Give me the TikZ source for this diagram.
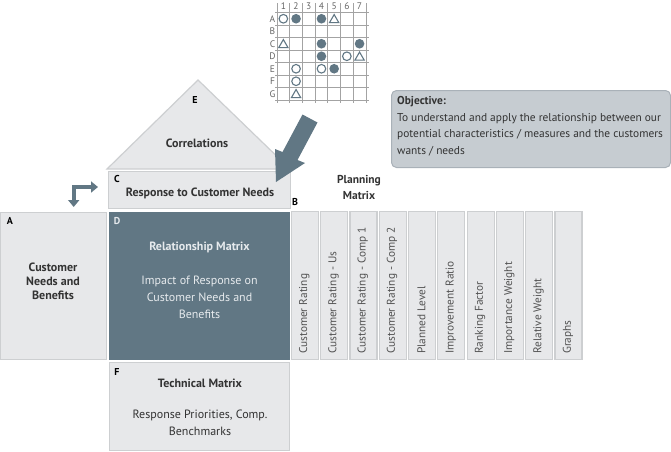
\documentclass[tikz,border=0pt]{standalone}
\usepackage{fontspec}
\setmainfont{PT Sans}
\usetikzlibrary{arrows.meta,shapes.geometric}
\definecolor{boxfill}{HTML}{E7E8EA}
\definecolor{boxline}{HTML}{CDCFD1}
\definecolor{slate}{HTML}{617784}
\definecolor{txt}{HTML}{333333}
\definecolor{lighttxt}{HTML}{E6EAED}
\definecolor{objfill}{HTML}{C6CCD1}
\definecolor{objline}{HTML}{A9B1B8}
\definecolor{gridc}{HTML}{A3A3A3}
\begin{document}
\begin{tikzpicture}[x=1pt,y=-1pt,
  box/.style={draw=boxline, fill=boxfill, line width=1.2pt, inner sep=0pt, anchor=north west},
  colbox/.style={box, minimum width=27pt, minimum height=148pt},
  lett/.style={font=\bfseries\fontsize{10}{12}\selectfont, text=black, inner sep=0pt},
  head/.style={font=\bfseries\fontsize{12}{14}\selectfont, text=txt, inner sep=0pt, align=center},
  body/.style={font=\fontsize{12}{17}\selectfont, text=txt, inner sep=0pt, align=center},
  collab/.style={font=\fontsize{11.3}{13}\selectfont, text=txt!85, inner sep=0pt, rotate=90, anchor=west},
  objtxt/.style={font=\fontsize{11.4}{13}\selectfont, text=txt, inner sep=0pt, anchor=west},
  gridlab/.style={font=\fontsize{9.5}{10}\selectfont, text=gray!80!black, inner sep=0pt},
  sym/.style={draw=slate, line width=1.1pt},
]
\useasboundingbox (0,0) rectangle (671,451);
\fill[white] (0,0) rectangle (671,451);

% ---- correlation grid ----
\foreach \i in {0,...,7} {
  \draw[gridc, line width=0.7pt] (275,12.5+12.5*\i) -- (369,12.5+12.5*\i);
  \draw[gridc, line width=0.7pt] (277+12.7*\i,3) -- (277+12.7*\i,103);
}
\foreach \n in {1,...,7} {
  \node[gridlab] (cn\n) at (277+12.7*\n-6.35,6) {\n};
}
\foreach \l [count=\r] in {A,B,C,D,E,F,G} {
  \node[gridlab] (rl\l) at (272.5,12.5*\r+6.25) {\l};
}
% symbols: open circles
\foreach \c/\r in {1/1,6/4,2/5,4/5,2/6} {
  \draw[sym, fill=white] (277+12.7*\c-6.35,12.5*\r+6.25) circle (4.3);
}
% filled circles
\foreach \c/\r in {2/1,4/1,4/3,7/3,4/4,5/5} {
  \fill[slate] (277+12.7*\c-6.35,12.5*\r+6.25) circle (4.8);
}
% triangles
\foreach \c/\r in {5/1,1/3,7/4,2/7} {
  \draw[sym, line join=miter] (277+12.7*\c-6.35-4.6,12.5*\r+6.25+3.8) -- (277+12.7*\c-6.35,12.5*\r+6.25-4.2) -- (277+12.7*\c-6.35+4.6,12.5*\r+6.25+3.8) -- cycle;
}

% ---- roof (E) ----
\draw[draw=boxline, fill=boxfill, line width=1.2pt] (107,169) -- (198,80) -- (290,169) -- cycle;
\node[lett] (lE) at (195,100) {E};
\node[head] (corr) at (197,143) {Correlations};

% ---- C box ----
\node[box, minimum width=182pt, minimum height=37pt] (C) at (108,171) {};
\node[lett] (lC) at (117,179) {C};
\node[head] (resp) at (200,193) {Response to Customer Needs};

% ---- big arrow ----
\fill[slate] (276,182) -- (275,149) -- (282.5,152) -- (302.5,114.5) -- (317.5,122.5) -- (297.5,160) -- (305,163) -- cycle;

% ---- small bent arrow ----
\coordinate (ba) at (73.7,207);
\coordinate (bb) at (98,187);
\draw[slate, line width=4pt, {Triangle[width=11pt,length=7pt]}-{Triangle[width=11pt,length=7pt]}] (ba) |- (bb);

% ---- A box ----
\node[box, minimum width=106pt, minimum height=147pt] (A) at (0,212) {};
\node[lett] (lA) at (10,221) {A};
\node[head] (cnb) at (53,281) {Customer\\Needs and\\Benefits};

% ---- D box ----
\node[box, draw=slate, fill=slate, minimum width=180pt, minimum height=147pt] (D) at (109,212) {};
\node[lett, text=lighttxt] (lD) at (117,221) {D};
\node[head, text=lighttxt] (rm) at (199.5,247) {Relationship Matrix};
\node[body, text=lighttxt] (imp) at (199.5,297.5) {Impact of Response on\\Customer Needs and\\Benefits};

% ---- F box ----
\node[box, minimum width=180pt, minimum height=88pt] (F) at (109,362) {};
\node[lett] (lF) at (117,372) {F};
\node[head] (tm) at (200,383) {Technical Matrix};
\node[body] (rpc) at (200,423) {Response Priorities, Comp.\\Benchmarks};

% ---- planning matrix ----
\node[head, font=\bfseries\fontsize{11.5}{16}\selectfont] (pm) at (359,187) {Planning\\Matrix};
\node[lett] (lB) at (295,202) {B};
\foreach \t [count=\k from 0] in {Customer Rating, Customer Rating - Us, Customer Rating - Comp 1, Customer Rating - Comp 2, Planned Level, Improvement Ratio, Ranking Factor, Importance Weight, Relative Weight, Graphs} {
  \node[colbox] (pc\k) at (290.7+29.3*\k,211) {};
  \node[collab] (pt\k) at (304.2+29.3*\k,354) {\t};
}

% ---- objective ----
\node[draw=objline, fill=objfill, line width=1pt, rounded corners=5pt, minimum width=279pt, minimum height=77pt, anchor=north west, inner sep=0pt] (obj) at (391,90) {};
\node[objtxt, font=\bfseries\fontsize{11.4}{13}\selectfont] (o1) at (397,102) {Objective:};
\node[objtxt] (o2) at (397,118.5) {To understand and apply the relationship between our};
\node[objtxt] (o3) at (397,135) {potential characteristics / measures and the customers};
\node[objtxt] (o4) at (397,151.5) {wants / needs};
\end{tikzpicture}
\end{document}
